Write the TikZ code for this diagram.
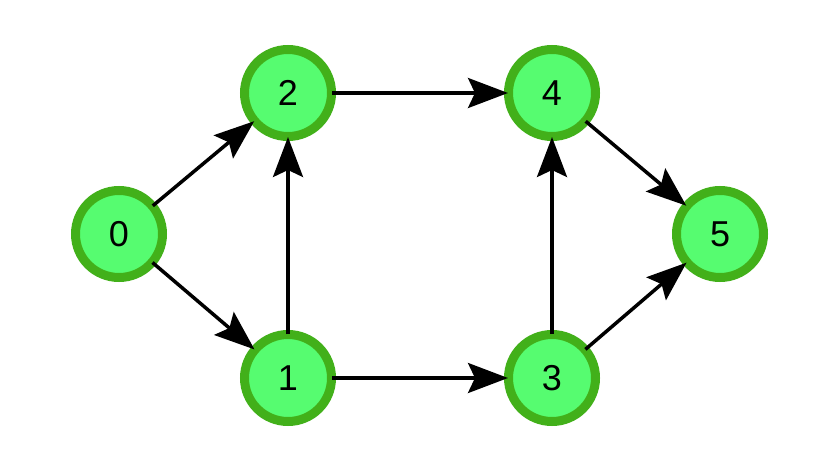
\documentclass[tikz,border=0pt]{standalone}
\usepackage{fontspec}
\setmainfont{Liberation Sans}
\usepackage{xcolor}
\usetikzlibrary{arrows.meta, positioning}

\definecolor{ringgreen}{RGB}{66,176,26}
\definecolor{fillgreen}{RGB}{86,252,112}

\begin{document}
\begin{tikzpicture}[x=1pt, y=-1pt,
    vertex/.style={circle, draw=ringgreen, fill=fillgreen, line width=9pt,
      minimum size=87pt, inner sep=0pt, font=\fontsize{36}{36}\selectfont},
    edge/.style={line width=3.5pt, -{Stealth[length=40pt, width=30pt, inset=7pt]},
      shorten >=-4pt, shorten <=-4pt}]
    \useasboundingbox (0,0) rectangle (840,468);
    \fill[white] (0,0) rectangle (840,468);
    % knoten
    \node[vertex] (n0) at (119,234) {0};
    \node[vertex] (n2) at (288,93) {2};
    \node[vertex] (n1) at (288,378) {1};
    \node[vertex] (n4) at (552,93) {4};
    \node[vertex] (n3) at (552,378) {3};
    \node[vertex] (n5) at (720,234) {5};
    % kanten
    \draw[edge] (n0) -- (n2);
    \draw[edge] (n0) -- (n1);
    \draw[edge] (n1) -- (n2);
    \draw[edge] (n2) -- (n4);
    \draw[edge] (n1) -- (n3);
    \draw[edge] (n3) -- (n4);
    \draw[edge] (n4) -- (n5);
    \draw[edge] (n3) -- (n5);
  \end{tikzpicture}
\end{document}
